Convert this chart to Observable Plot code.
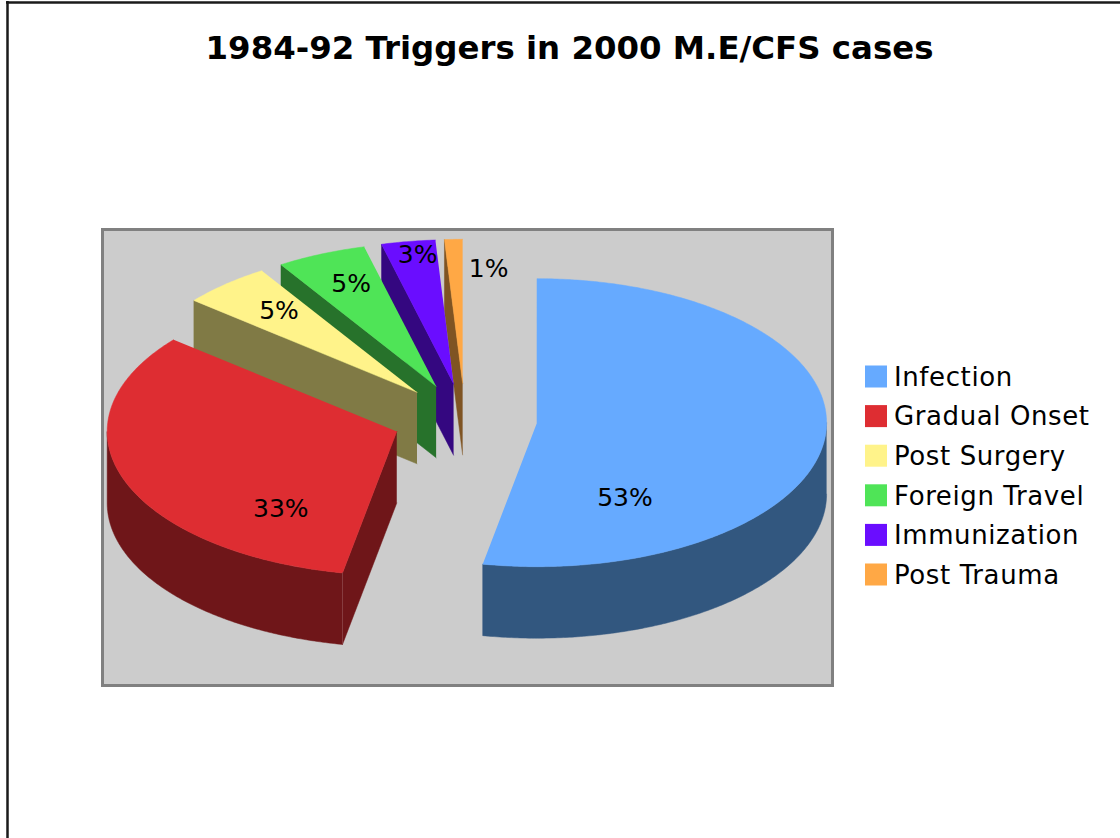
<!DOCTYPE html>
<html>
<head>
<meta charset="utf-8">
<script src="https://cdn.jsdelivr.net/npm/d3@7"></script>
<script src="https://cdn.jsdelivr.net/npm/@observablehq/plot@0.6"></script>
<style>html,body{margin:0;padding:0;background:#fff;overflow:hidden}svg{display:block}.legend-text{letter-spacing:.6px}</style>
</head>
<body>
<div id="chart"></div>
<script>
// Data
const chartTitle = "1984-92 Triggers in 2000 M.E/CFS cases";
const categories = ["Infection", "Gradual Onset", "Post Surgery", "Foreign Travel", "Immunization", "Post Trauma"];
const shares = [53, 33, 5, 5, 3, 1];

// Styles
const faceColors = ["#66aaff", "#de2d32", "#fff38a", "#4fe457", "#6a0dff", "#ffa845"];
const wallColors = ["#32577f", "#6f1619", "#807a45", "#27722b", "#340780", "#7f5423"];
const font = "'DejaVu Sans', Verdana, sans-serif";

// Layout of the tilted pie
const W = 1120, H = 838;
const pie = {cx: 464.4, cy: 418.8, rx: 289.6, ry: 144, depth: 71.5, explode: 0.25};
const labelOffsets = [[88, 75], [-116, 78], [-138, -81], [-85, -102], [-36, -129], [26, -114]];
const legend = {x1: 865, x2: 887, textX: 893.5, top: 376.5, step: 39.6, half: 11};

const total = d3.sum(shares);
const slices = [];
{
  let start = 0;
  categories.forEach((name, i) => {
    const a0 = start / total * 2 * Math.PI;
    const a1 = (start + shares[i]) / total * 2 * Math.PI;
    const mid = (a0 + a1) / 2;
    start += shares[i];
    slices.push({
      name, i, a0, a1, share: shares[i],
      ax: pie.cx + pie.explode * pie.rx * Math.sin(mid),
      ay: pie.cy - pie.explode * pie.ry * Math.cos(mid)
    });
  });
}
const rim = (s, a, dz = 0) => ({x: s.ax + pie.rx * Math.sin(a), y: s.ay - pie.ry * Math.cos(a) + dz});
const arcAngles = (a0, a1) => {
  const n = Math.max(2, Math.ceil((a1 - a0) / 0.01));
  return d3.range(n + 1).map(k => a0 + (a1 - a0) * k / n);
};
const topFace = s => [{x: s.ax, y: s.ay}, ...arcAngles(s.a0, s.a1).map(a => rim(s, a))]
  .map(p => ({...p, name: s.name, poly: s.name + "-top"}));

function wallFaces(s) {
  const polys = [];
  // outer wall: only the part of the rim that faces the viewer
  const lo = Math.max(s.a0, Math.PI / 2), hi = Math.min(s.a1, 3 * Math.PI / 2);
  if (hi > lo) {
    const as = arcAngles(lo, hi);
    polys.push([...as.map(a => rim(s, a)), ...as.slice().reverse().map(a => rim(s, a, pie.depth))]);
  }
  const radial = a => [
    {x: s.ax, y: s.ay}, rim(s, a), rim(s, a, pie.depth), {x: s.ax, y: s.ay + pie.depth}
  ];
  if (Math.sin(s.a0) < -1e-9) polys.push(radial(s.a0));
  if (Math.sin(s.a1) > 1e-9) polys.push(radial(s.a1));
  return polys.flatMap((poly, k) => poly.map(p => ({...p, poly: s.name + "-wall" + k})));
}

const pieMarks = slices.slice().reverse().flatMap(s => [
  Plot.line(wallFaces(s), {x: "x", y: "y", z: "poly", fill: wallColors[s.i], stroke: wallColors[s.i], strokeWidth: 0.5}),
  Plot.line(topFace(s), {x: "x", y: "y", z: "poly", fill: "name", stroke: "name", strokeWidth: 0.5})
]);

// faint seam where the red outer wall meets its cut face
const seam = slices.filter(s => s.i === 1).map(s => ({
  x: rim(s, s.a0).x, y1: rim(s, s.a0).y, y2: rim(s, s.a0, pie.depth).y
}));

const labels = slices.map(s => ({
  text: s.share + "%",
  x: s.ax + labelOffsets[s.i][0],
  y: s.ay + labelOffsets[s.i][1]
}));
const legendRows = categories.map((name, i) => ({name, y: legend.top + i * legend.step}));

const chart = Plot.plot({
  width: W, height: H,
  margin: 0,
  style: {background: "#fff", fontFamily: font, overflow: "visible"},
  x: {axis: null, domain: [0, W], range: [0, W]},
  y: {axis: null, domain: [0, H], range: [0, H]},
  color: {domain: categories, range: faceColors},
  marks: [
    // page frame (top and left edges)
    Plot.ruleY([2], {x1: 6, x2: W, stroke: "#1a1a1a", strokeWidth: 2.5}),
    Plot.ruleX([7], {y1: 1, y2: H, stroke: "#1a1a1a", strokeWidth: 2.5}),
    Plot.text([chartTitle], {x: 569, y: 48, text: d => d, fontSize: 32.4, fontWeight: "bold", fill: "#000", fontFamily: font}),
    // plot area
    Plot.rect([0], {x1: 102.5, x2: 832.5, y1: 229.5, y2: 685.5, fill: "#cccccc", stroke: "#808080", strokeWidth: 3}),
    ...pieMarks,
    Plot.ruleX(seam, {x: "x", y1: "y1", y2: "y2", stroke: "#8a4044", strokeWidth: 0.8}),
    Plot.text(labels, {x: "x", y: "y", text: "text", fontSize: 25, fill: "#000", fontFamily: font}),
    // legend
    Plot.rect(legendRows, {
      x1: () => legend.x1, x2: () => legend.x2,
      y1: d => d.y - legend.half, y2: d => d.y + legend.half,
      fill: "name"
    }),
    Plot.text(legendRows, {x: () => legend.textX, y: d => d.y + 0.5, text: "name", textAnchor: "start", fontSize: 26, fill: "#000", fontFamily: font, className: "legend-text"})
  ]
});
document.getElementById("chart").appendChild(chart);
</script>
</body>
</html>
